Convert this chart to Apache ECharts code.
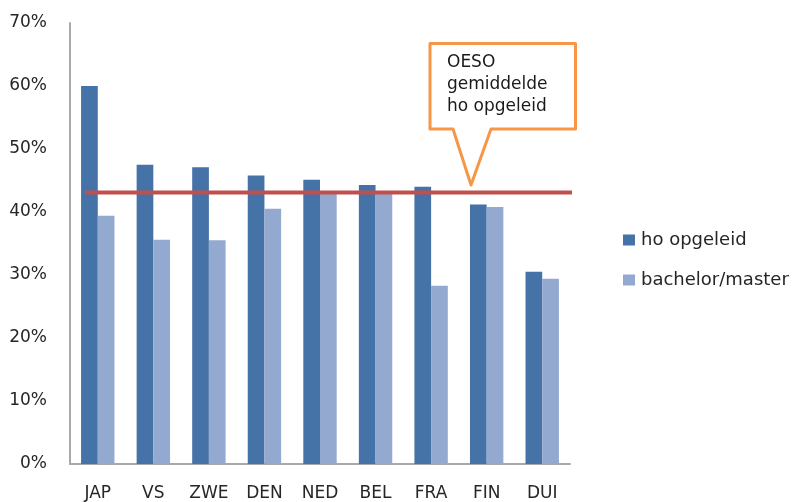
<!DOCTYPE html>
<html>
<head>
<meta charset="utf-8">
<script src="https://cdn.jsdelivr.net/npm/echarts@6/dist/echarts.min.js"></script>
<style>html,body{margin:0;padding:0;background:#fff}#c{width:798px;height:502px}</style>
</head>
<body>
<div id="c"></div>
<script>
const categories = ['JAP', 'VS', 'ZWE', 'DEN', 'NED', 'BEL', 'FRA', 'FIN', 'DUI'];
const hoOpgeleid = [60.0, 47.5, 47.1, 45.8, 45.1, 44.3, 44.0, 41.2, 30.5];
const bachelorMaster = [39.4, 35.6, 35.5, 40.5, 43.0, 43.0, 28.3, 40.8, 29.4];
const oesoAverage = 43.1;
const oesoLineExtent = [0.27, 9.1]; // in category-width units along the plot
const yTicks = [0, 10, 20, 30, 40, 50, 60, 70];
const seriesNames = ['ho opgeleid', 'bachelor/master'];
const calloutText = ['OESO', 'gemiddelde', 'ho opgeleid'];

const FONT = 'DejaVu Sans';
const chart = echarts.init(document.getElementById('c'), null, {renderer: 'canvas'});
chart.setOption({
  animation: false,
  backgroundColor: '#fff',
  grid: {left: 70, right: 228, top: 23, bottom: 37},
  legend: {
    orient: 'vertical', left: 618, top: 225,
    icon: 'rect', itemWidth: 12, itemHeight: 11, itemGap: 20,
    data: seriesNames,
    textStyle: {fontFamily: FONT, fontSize: 18, color: '#262626', lineHeight: 20, padding: [0, 0, 0, 1]}
  },
  xAxis: [{
    type: 'category', data: categories,
    axisLine: {lineStyle: {color: '#A9A9A9', width: 2}},
    axisTick: {show: false},
    axisLabel: {fontFamily: FONT, fontSize: 17, color: '#262626', margin: 21}
  }, {
    type: 'value', min: 0, max: categories.length, show: false
  }],
  yAxis: {
    type: 'value', min: yTicks[0], max: yTicks[yTicks.length - 1], interval: 10,
    axisLine: {show: true, lineStyle: {color: '#A9A9A9', width: 2}},
    axisTick: {show: false},
    splitLine: {show: false},
    axisLabel: {fontFamily: FONT, fontSize: 17, color: '#262626', margin: 23, formatter: '{value}%'}
  },
  series: [{
    name: seriesNames[0], type: 'bar', data: hoOpgeleid,
    barWidth: 16.7, barGap: '0%',
    itemStyle: {color: '#4572A7'}
  }, {
    name: seriesNames[1], type: 'bar', data: bachelorMaster,
    barWidth: 16.7, barGap: '0%',
    itemStyle: {color: '#94A9D0'}
  }, {
    name: 'OESO', type: 'line', xAxisIndex: 1, clip: false, z: 5,
    symbol: 'none', silent: true,
    data: oesoLineExtent.map(x => [x, oesoAverage]),
    lineStyle: {color: '#C0504D', width: 4}
  }],
  graphic: [{
    type: 'polygon', z: 10,
    shape: {points: [[430, 43.5], [575.5, 43.5], [575.5, 129], [491, 129], [471, 185], [453, 129], [430, 129]]},
    style: {fill: '#fff', stroke: '#F79646', lineWidth: 3, lineJoin: 'round'}
  }, {
    type: 'text', z: 11, left: 447, top: 52,
    style: {text: calloutText.join('\n'), font: '17px "DejaVu Sans"', fill: '#1a1a1a', lineHeight: 22}
  }]
});
</script>
</body>
</html>
